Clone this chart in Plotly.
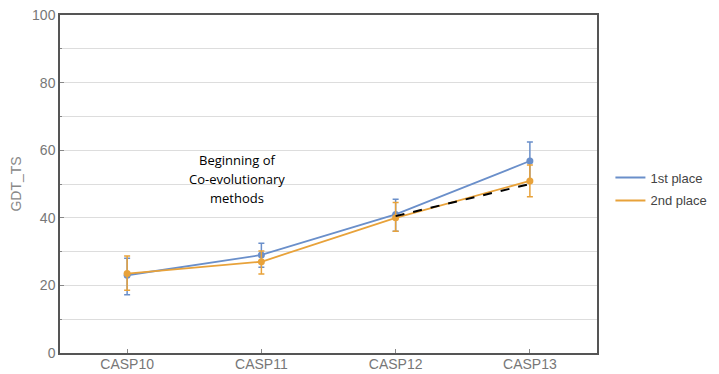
import plotly.graph_objects as go

categories = ["CASP10", "CASP11", "CASP12", "CASP13"]
first_place = [23.0, 29.0, 41.0, 56.8]
first_low = [17.2, 25.4, 36.0, 51.0]
first_high = [28.0, 32.5, 45.5, 62.4]
second_place = [23.5, 27.0, 40.0, 50.9]
second_low = [18.6, 23.4, 36.0, 46.2]
second_high = [28.7, 30.2, 44.5, 55.6]
trend_x = ["CASP12", "CASP13"]
trend_y = [40.5, 50.0]
note_lines = ["Beginning of", "Co-evolutionary", "methods"]

blue = "#6a8fca"
orange = "#e8a23a"

fig = go.Figure()

def add_series(name, vals, low, high, color):
    fig.add_trace(go.Scatter(
        x=categories, y=vals, name=name, mode="lines+markers", showlegend=False,
        line=dict(color=color, width=1.8),
        marker=dict(color=color, size=7),
        error_y=dict(type="data", symmetric=False,
                     array=[h - v for h, v in zip(high, vals)],
                     arrayminus=[v - l for l, v in zip(low, vals)],
                     color=color, thickness=1.5, width=3),
    ))
    fig.add_trace(go.Scatter(x=[None], y=[None], name=name, mode="lines",
                             legendgroup=name,
                             line=dict(color=color, width=2)))

add_series("1st place", first_place, first_low, first_high, blue)
add_series("2nd place", second_place, second_low, second_high, orange)
fig.add_trace(go.Scatter(x=trend_x, y=trend_y, mode="lines", showlegend=False,
                         line=dict(color="black", width=2, dash="dash")))

for i, line in enumerate(note_lines):
    fig.add_annotation(x=0.82, y=57.1 - 5.6 * i, xref="x", yref="y",
                       text=line, showarrow=False,
                       font=dict(family="Open Sans", size=13, color="black"))

# page body has an 8px margin, so the figure is sized to fit the window
fig.update_layout(
    width=711, height=366,
    margin=dict(l=52, r=113, t=7, b=21),
    paper_bgcolor="white", plot_bgcolor="white",
    font=dict(family="Liberation Sans, Arial", color="#777777", size=14),
    legend=dict(x=1.025, y=0.485, xanchor="left", yanchor="middle",
                font=dict(size=13, color="#444444"), tracegroupgap=3, itemwidth=30),
    xaxis=dict(range=[-0.5, 3.5], showline=True, linecolor="#555555", linewidth=1.5,
               mirror=True, ticks="inside", ticklen=4, tickcolor="#888888", automargin=False,
               ticklabelstandoff=-3,
               showgrid=False, zeroline=False, tickfont=dict(size=14, color="#777777")),
    yaxis=dict(range=[0, 100], dtick=20, showline=True, linecolor="#555555", linewidth=1.5,
               mirror=True, ticks="inside", ticklen=4, tickcolor="#888888", automargin=False,
               ticklabeloverflow="allow",
               showgrid=True, gridcolor="#dddddd", gridwidth=1, zeroline=False,
               minor=dict(dtick=10, showgrid=True, gridcolor="#dddddd", ticks="inside", ticklen=2),
               title=dict(text="GDT_TS", font=dict(size=14, color="#888888"), standoff=10),
               tickfont=dict(size=14, color="#777777")),
)

fig.write_html("out.html")
